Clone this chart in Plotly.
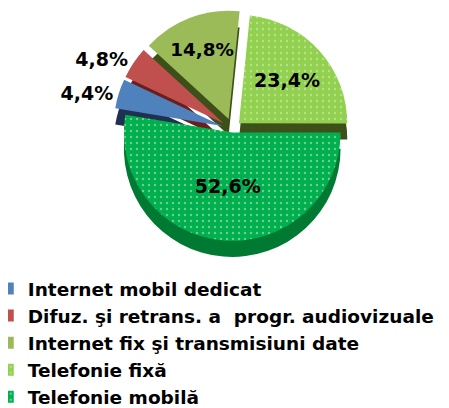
import plotly.graph_objects as go

labels = ["Internet mobil dedicat", "Difuz. şi retrans. a  progr. audiovizuale",
          "Internet fix şi transmisiuni date", "Telefonie fixă", "Telefonie mobilă"]
values = [4.4, 4.8, 14.8, 23.4, 52.6]
text_labels = ["4,4%", "4,8%", "14,8%", "23,4%", "52,6%"]
colors = ["#4F81BD", "#C0504D", "#9BBB59", "#92D050", "#00B050"]
side_colors = ["#1F3050", "#6B1E1C", "#3E5019", "#3E5019", "#007A33"]

pull = [0.1, 0.1, 0.1, 0.08, 0.03]
rotation = -80.6

fig = go.Figure()
# depth layer
fig.add_trace(go.Pie(
    labels=labels, values=values, sort=False, direction="clockwise",
    rotation=rotation, pull=pull, showlegend=False, textinfo="none",
    hoverinfo="skip",
    marker=dict(colors=side_colors, line=dict(width=0)),
    domain=dict(x=[0.0, 1.0], y=[0.37, 0.96]),
))
fig.add_trace(go.Pie(
    labels=labels, values=values, sort=False, direction="clockwise",
    rotation=rotation, pull=pull, text=text_labels, texttemplate="%{text}",
    textposition=["outside", "outside", "inside", "inside", "inside"],
    insidetextorientation="horizontal",
    textfont=dict(family="DejaVu Sans", size=19, color="black", weight="bold"),
    outsidetextfont=dict(family="DejaVu Sans", size=19, color="black", weight="bold"),
    marker=dict(colors=colors, line=dict(width=0),
                pattern=dict(shape=["", "", "", ".", "."], size=6, solidity=0.12,
                             fgcolor="#D9F2C0", fillmode="overlay")),
    domain=dict(x=[0.0, 1.0], y=[0.41, 1.0]),
))

fig.update_layout(
    width=449, height=408,
    margin=dict(l=2, r=2, t=2, b=2, autoexpand=False),
    paper_bgcolor="white",
    legend=dict(xref="paper", yref="paper", x=-0.05, y=-0.005,
                xanchor="left", yanchor="bottom",
                font=dict(family="DejaVu Sans", size=18.5, color="black", weight="bold"),
                itemwidth=30, tracegroupgap=0, traceorder="normal",
                bgcolor="rgba(0,0,0,0)"),
)
fig.write_html("out.html")
